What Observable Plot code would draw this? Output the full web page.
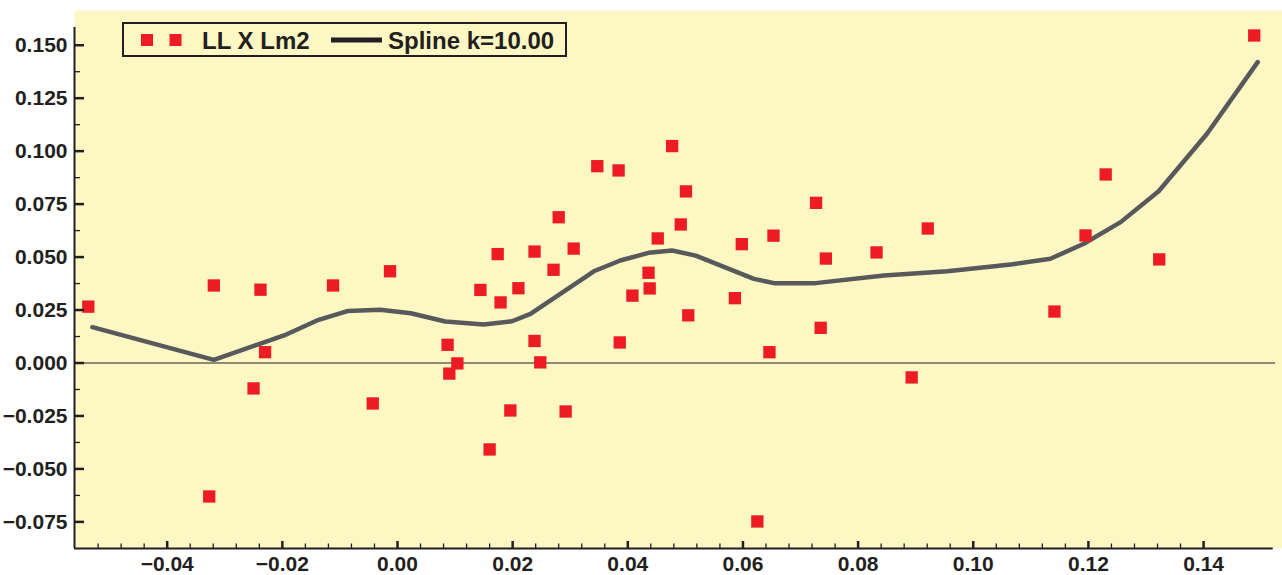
<!DOCTYPE html>
<html>
<head>
<meta charset="utf-8">
<script src="https://cdn.jsdelivr.net/npm/d3@7"></script>
<script src="https://cdn.jsdelivr.net/npm/@observablehq/plot@0.6"></script>
<style>
  html, body { margin: 0; padding: 0; background: #ffffff; }
  #wrap { position: relative; width: 1282px; height: 575px; }
  #legend { position: absolute; left: 0; top: 0; pointer-events: none; }
</style>
</head>
<body>
<div id="wrap"></div>
<script>
// ---- data ----
const pointX = [-0.0537, -0.0319, -0.0327, -0.0250, -0.0238, -0.0230, -0.0112, -0.0043, -0.0013,
  0.0087, 0.0090, 0.0104, 0.0144, 0.0160, 0.0174, 0.0179, 0.0196, 0.0210, 0.0238, 0.0238, 0.0248,
  0.0271, 0.0280, 0.0292, 0.0306, 0.0347, 0.0384, 0.0386, 0.0408, 0.0436, 0.0438, 0.0452, 0.0477,
  0.0492, 0.0501, 0.0505, 0.0586, 0.0598, 0.0625, 0.0646, 0.0653, 0.0727, 0.0735, 0.0744, 0.0832,
  0.0893, 0.0921, 0.1141, 0.1195, 0.1230, 0.1323, 0.1488];
const pointY = [0.0266, 0.0366, -0.0630, -0.0120, 0.0346, 0.0051, 0.0366, -0.0191, 0.0433,
  0.0086, -0.0050, -0.0002, 0.0345, -0.0408, 0.0514, 0.0286, -0.0224, 0.0353, 0.0526, 0.0104, 0.0003,
  0.0440, 0.0688, -0.0229, 0.0540, 0.0929, 0.0909, 0.0097, 0.0318, 0.0426, 0.0352, 0.0588, 0.1024,
  0.0654, 0.0810, 0.0225, 0.0306, 0.0561, -0.0748, 0.0051, 0.0601, 0.0756, 0.0166, 0.0493, 0.0522,
  -0.0068, 0.0635, 0.0243, 0.0602, 0.0890, 0.0489, 0.1546];

const splineX = [-0.0530, -0.0319, -0.0197, -0.0137, -0.0087, -0.0030, 0.0023, 0.0083, 0.0150,
  0.0199, 0.0231, 0.0341, 0.0387, 0.0436, 0.0477, 0.0518, 0.0619, 0.0654, 0.0726, 0.0845, 0.0955,
  0.1065, 0.1134, 0.1192, 0.1256, 0.1322, 0.1406, 0.1494];
const splineY = [0.0169, 0.0015, 0.0130, 0.0204, 0.0245, 0.0251, 0.0235, 0.0196, 0.0182,
  0.0197, 0.0232, 0.0433, 0.0484, 0.0520, 0.0531, 0.0507, 0.0397, 0.0377, 0.0377, 0.0413, 0.0433,
  0.0465, 0.0492, 0.0563, 0.0665, 0.0811, 0.1082, 0.1420];

const xMajorTicks = [-0.04, -0.02, 0.00, 0.02, 0.04, 0.06, 0.08, 0.10, 0.12, 0.14];
const xMinorTicks = [-0.052, -0.048, -0.044, -0.036, -0.032, -0.028, -0.024, -0.016, -0.012, -0.008, -0.004,
  0.004, 0.008, 0.012, 0.016, 0.024, 0.028, 0.032, 0.036, 0.044, 0.048, 0.052, 0.056,
  0.064, 0.068, 0.072, 0.076, 0.084, 0.088, 0.092, 0.096, 0.104, 0.108, 0.112, 0.116,
  0.124, 0.128, 0.132, 0.136];
const yMajorTicks = [-0.075, -0.050, -0.025, 0.000, 0.025, 0.050, 0.075, 0.100, 0.125, 0.150];
const yMinorTicks = [-0.0625, -0.0375, -0.0125, 0.0125, 0.0375, 0.0625, 0.0875, 0.1125, 0.1375];

const seriesNames = ["LL X Lm2", "Spline k=10.00"];

// ---- tables built from arrays ----
const points = pointX.map((x, i) => ({x, y: pointY[i]}));
const spline = splineX.map((x, i) => ({x, y: splineY[i]}));

const xDomain = [-0.0561, 0.15371];
const yDomain = [-0.08756, 0.16639];
const ink = "#231f20";
const bg = "#fdf7c4";

const chart = Plot.plot({
  width: 1282,
  height: 575,
  marginLeft: 74,
  marginRight: 0,
  marginTop: 10,
  marginBottom: 27,
  x: {domain: xDomain},
  y: {domain: yDomain},
  style: {
    background: "transparent",
    fontFamily: "'Liberation Sans', Arial, sans-serif",
    fontWeight: "bold",
    color: ink
  },
  marks: [
    Plot.frame({fill: bg, stroke: null}),
    Plot.ruleY([0], {x1: xDomain[0], x2: 0.1525, stroke: ink, strokeWidth: 1.2}),
    Plot.line(spline, {x: "x", y: "y", stroke: "#58595b", strokeWidth: 4.5}),
    Plot.dot(points, {x: "x", y: "y", symbol: "square", r: 6.95, fill: "#ed1c24", stroke: null}),
    // axis lines
    Plot.ruleX([xDomain[0]], {y1: yDomain[0], y2: 0.1584, stroke: ink, strokeWidth: 2}),
    Plot.ruleY([yDomain[0]], {x1: xDomain[0], x2: 0.1521, stroke: ink, strokeWidth: 2}),
    // inward ticks
    Plot.axisY(yMajorTicks, {anchor: "left", tickSize: 10, dx: 10, strokeWidth: 2.5, stroke: ink, tickFormat: () => "", label: null}),
    Plot.axisY(yMinorTicks, {anchor: "left", tickSize: 6, dx: 6, strokeWidth: 1.3, stroke: ink, tickFormat: () => "", label: null}),
    Plot.axisX(xMajorTicks, {anchor: "bottom", tickSize: 7, dy: -7, strokeWidth: 2.5, stroke: ink, tickFormat: () => "", label: null}),
    Plot.axisX(xMinorTicks, {anchor: "bottom", tickSize: 4.5, dy: -4.5, strokeWidth: 1.3, stroke: ink, tickFormat: () => "", label: null}),
    // labels
    Plot.axisY(yMajorTicks, {anchor: "left", tickSize: 0, tickPadding: 7, fontSize: 21, tickFormat: d3.format(".3f"), label: null, fill: ink}),
    Plot.axisX(xMajorTicks, {anchor: "bottom", tickSize: 0, tickPadding: 8, fontSize: 21, tickFormat: d3.format(".2f"), label: null, fill: ink})
  ]
});

const wrap = document.getElementById("wrap");
wrap.appendChild(chart);

// ---- legend overlay ----
const ns = "http://www.w3.org/2000/svg";
const leg = document.createElementNS(ns, "svg");
leg.setAttribute("id", "legend");
leg.setAttribute("width", 1282);
leg.setAttribute("height", 80);
leg.innerHTML = `
  <rect x="123" y="23" width="443" height="33" fill="none" stroke="${ink}" stroke-width="2"/>
  <rect x="141" y="34" width="12" height="12" fill="#ed1c24"/>
  <rect x="169.5" y="34" width="12" height="12" fill="#ed1c24"/>
  <text x="202" y="48.5" font-family="'Liberation Sans', Arial, sans-serif" font-weight="bold" font-size="24" fill="${ink}">${seriesNames[0]}</text>
  <line x1="331" y1="40" x2="382" y2="40" stroke="${ink}" stroke-width="5"/>
  <text x="388" y="48.5" font-family="'Liberation Sans', Arial, sans-serif" font-weight="bold" font-size="24" fill="${ink}">${seriesNames[1]}</text>
`;
wrap.appendChild(leg);
</script>
</body>
</html>
